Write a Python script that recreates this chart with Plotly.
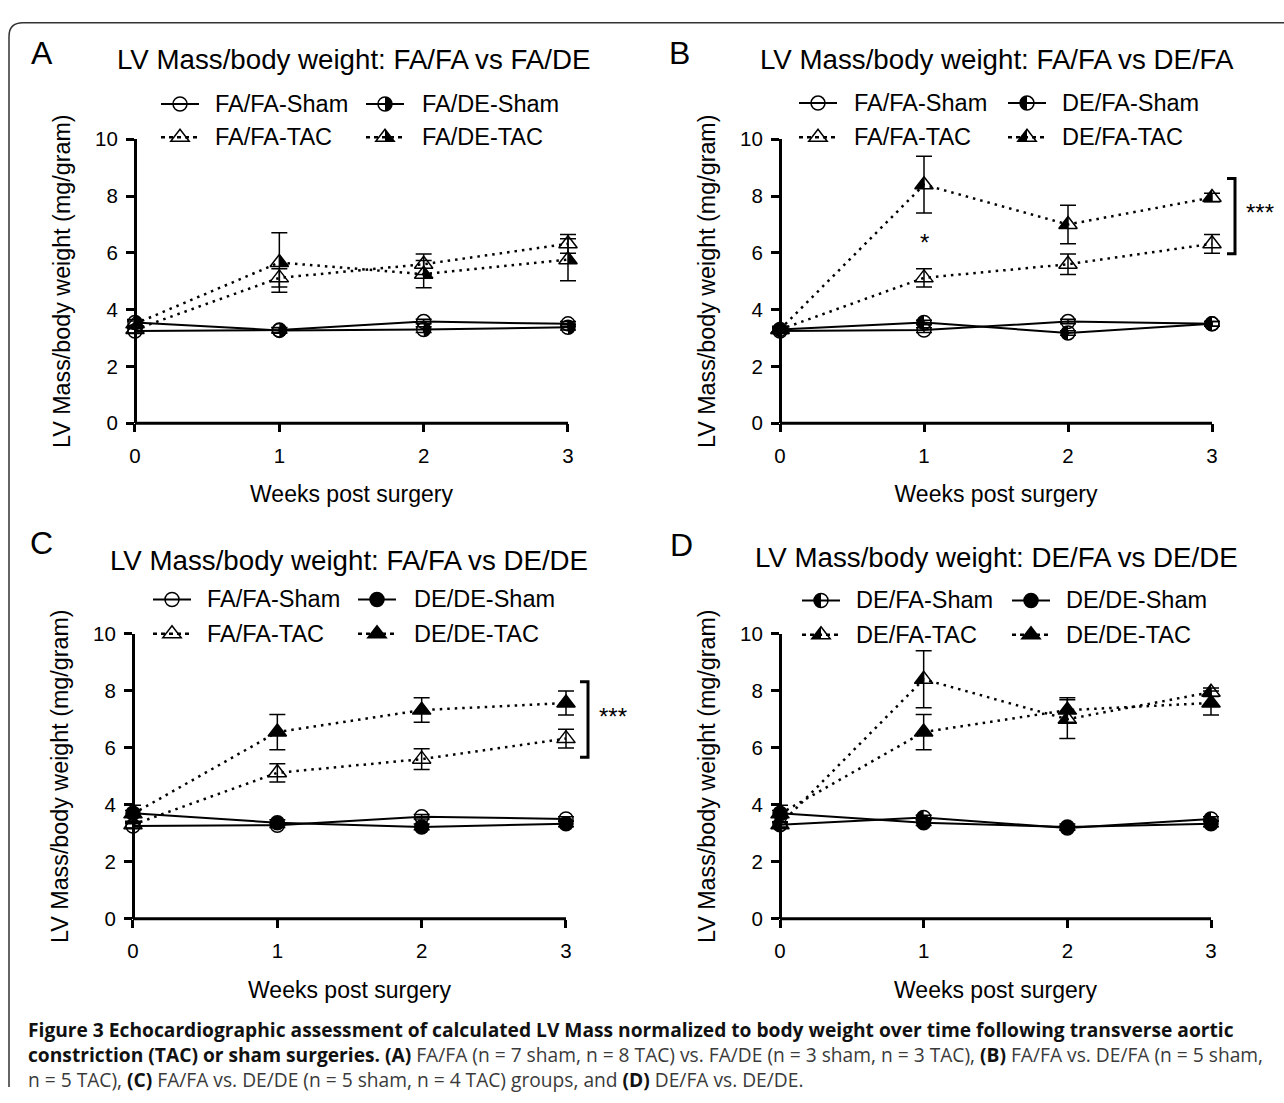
import math
import plotly.graph_objects as go

W, H = 1284, 1103

# ---------------- data ----------------
weeks = [0, 1, 2, 3]
x_tick_labels = ["0", "1", "2", "3"]
y_ticks = [0, 2, 4, 6, 8, 10]

fafa_sham = [3.25, 3.28, 3.58, 3.50]
fafa_sham_sem = [0.08, 0.08, 0.08, 0.08]
fafa_tac = [3.30, 5.12, 5.60, 6.32]
fafa_tac_sem = [0.12, 0.32, 0.36, 0.33]

fade_sham = [3.55, 3.27, 3.30, 3.38]
fade_sham_sem = [0.10, 0.10, 0.10, 0.10]
fade_tac = [3.50, 5.66, 5.25, 5.76]
fade_tac_sem = [0.10, 1.05, 0.48, 0.74]

defa_sham = [3.30, 3.55, 3.18, 3.50]
defa_sham_sem = [0.08, 0.08, 0.08, 0.08]
defa_tac = [3.30, 8.40, 7.00, 7.95]
defa_tac_sem = [0.10, 1.00, 0.68, 0.15]

dede_sham = [3.70, 3.37, 3.22, 3.33]
dede_sham_sem = [0.10, 0.10, 0.10, 0.10]
dede_tac = [3.68, 6.55, 7.32, 7.57]
dede_tac_sem = [0.30, 0.62, 0.43, 0.42]

# significance marks
star_B = [1, 6.59]
bracket_B = [8.62, 5.97]
bracket_C = [8.32, 5.67]
stars_B_y = 7.62
stars_C_y = 7.29

panel_titles = [
    "LV Mass/body weight: FA/FA vs FA/DE",
    "LV Mass/body weight: FA/FA vs DE/FA",
    "LV Mass/body weight: FA/FA vs DE/DE",
    "LV Mass/body weight: DE/FA vs DE/DE",
]
panel_letters = ["A", "B", "C", "D"]
x_title = "Weeks post surgery"
y_title = "LV Mass/body weight (mg/gram)"

# series: name -> (values, sem, marker kind, fill, group)
series = {
    "FA/FA-Sham": (fafa_sham, fafa_sham_sem, "circle", "open", "sham"),
    "FA/FA-TAC": (fafa_tac, fafa_tac_sem, "triangle", "open", "tac"),
    "FA/DE-Sham": (fade_sham, fade_sham_sem, "circle", "right", "sham"),
    "FA/DE-TAC": (fade_tac, fade_tac_sem, "triangle", "right", "tac"),
    "DE/FA-Sham": (defa_sham, defa_sham_sem, "circle", "left", "sham"),
    "DE/FA-TAC": (defa_tac, defa_tac_sem, "triangle", "left", "tac"),
    "DE/DE-Sham": (dede_sham, dede_sham_sem, "circle", "full", "sham"),
    "DE/DE-TAC": (dede_tac, dede_tac_sem, "triangle", "full", "tac"),
}

panel_series = [
    [["FA/FA-Sham", "FA/DE-Sham"], ["FA/FA-TAC", "FA/DE-TAC"]],
    [["FA/FA-Sham", "DE/FA-Sham"], ["FA/FA-TAC", "DE/FA-TAC"]],
    [["FA/FA-Sham", "DE/DE-Sham"], ["FA/FA-TAC", "DE/DE-TAC"]],
    [["DE/FA-Sham", "DE/DE-Sham"], ["DE/FA-TAC", "DE/DE-TAC"]],
]

caption_html = (
    "<b>Figure 3 Echocardiographic assessment of calculated LV Mass normalized to body weight over time following transverse aortic</b><br>"
    "<b>constriction (TAC) or sham surgeries.</b> <b>(A)</b> <span style='color:#3a3a3a'>FA/FA (n = 7 sham, n = 8 TAC) vs. FA/DE (n = 3 sham, n = 3 TAC),</span> "
    "<b>(B)</b> <span style='color:#3a3a3a'>FA/FA vs. DE/FA (n = 5 sham,</span><br>"
    "<span style='color:#3a3a3a'>n = 5 TAC),</span> <b>(C)</b> <span style='color:#3a3a3a'>FA/FA vs. DE/DE (n = 5 sham, n = 4 TAC) groups, and</span> "
    "<b>(D)</b> <span style='color:#3a3a3a'>DE/FA vs. DE/DE.</span>"
)

# ---------------- layout geometry (pixels) ----------------
plot_boxes = [
    dict(x=(135, 568), y=(130, 420)),
    dict(x=(780, 1212), y=(130, 420)),
    dict(x=(133, 566), y=(635, 926)),
    dict(x=(780, 1211), y=(635, 926)),
]
title_pos = [(353, 49), (997, 49), (349, 560), (996, 557)]
letter_pos = [(42, 42), (680, 42), (42, 542), (681, 544)]
legend_rows = [(94, 128), (93, 128), (600, 635), (601, 636)]
legend_cols = [((180, 213), (385, 420)), ((818, 852), (1027, 1060)),
               ((172, 205), (377, 412)), ((821, 854), (1031, 1064))]
bracket_dx = [None, 23, 22, None]

FONT = "Liberation Sans, Arial, Helvetica, sans-serif"
CIRC = 14
TRI = 16
DOT = "2.5px,5px"
PAD = 0.1


def X(px):
    return px / W


def Y(py):
    return 1 - py / H


def marker_shapes(kind, fill, xref, yref, xa, ya):
    out = []
    base = dict(xref=xref, yref=yref, xsizemode="pixel", ysizemode="pixel",
                xanchor=xa, yanchor=ya, layer="above")
    if kind == "circle":
        r = CIRC / 2
        c = 0.5523 * r
        if fill in ("open", "full"):
            out.append(dict(type="circle", x0=-r, x1=r, y0=-r, y1=r,
                            line=dict(color="black", width=1.5),
                            fillcolor="black" if fill == "full" else "rgba(0,0,0,0)", **base))
        else:
            s = 1 if fill == "right" else -1
            p = (f"M0,{r} C{s*c},{r} {s*r},{c} {s*r},0 "
                 f"C{s*r},{-c} {s*c},{-r} 0,{-r} Z")
            out.append(dict(type="path", path=p, fillcolor="black",
                            line=dict(width=0), **base))
            if xref == "paper":
                out.append(dict(type="circle", x0=-r, x1=r, y0=-r, y1=r,
                                line=dict(color="black", width=1.5),
                                fillcolor="rgba(0,0,0,0)", **base))
    else:
        r = TRI / 2
        rt = r * 2 / math.sqrt(3)
        if fill in ("open", "full"):
            p = f"M{-rt},{-r/2} L{rt},{-r/2} L0,{r} Z"
            out.append(dict(type="path", path=p,
                            line=dict(color="black", width=1.5),
                            fillcolor="black" if fill == "full" else "rgba(0,0,0,0)", **base))
        else:
            s = 1 if fill == "right" else -1
            p = f"M0,{r} L{s*rt},{-r/2} L0,{-r/2} Z"
            out.append(dict(type="path", path=p, fillcolor="black",
                            line=dict(width=0), **base))
            if xref == "paper":
                p2 = f"M{-rt},{-r/2} L{rt},{-r/2} L0,{r} Z"
                out.append(dict(type="path", path=p2,
                                line=dict(color="black", width=1.5),
                                fillcolor="rgba(0,0,0,0)", **base))
    return out


fig = go.Figure()
shapes = []
annotations = []
layout_axes = {}

for i in range(4):
    n = "" if i == 0 else str(i + 1)
    xr, yr = "x" + n, "y" + n
    box = plot_boxes[i]
    p0, p3 = box["x"]
    ytop, ybot = box["y"]
    s = (p3 - p0) / 3.0
    tick_common = dict(ticks="outside", ticklen=8, tickwidth=3, tickcolor="black",
                       showgrid=False, zeroline=False,
                       tickfont=dict(family=FONT, size=20.5, color="black"))
    layout_axes["xaxis" + n] = dict(
        domain=[X(p0 - PAD * s), X(p3 + PAD * s)], range=[-PAD, 3 + PAD], anchor=yr,
        showline=False, tickvals=weeks, ticktext=x_tick_labels, ticklabelstandoff=6,
        title=dict(text=x_title, font=dict(family=FONT, size=23, color="black"), standoff=20),
        **tick_common)
    layout_axes["yaxis" + n] = dict(
        domain=[Y(ybot), Y(ytop)], range=[0, 10], anchor="free", position=X(p0),
        showline=True, linewidth=3, linecolor="black",
        tickvals=y_ticks, ticklabelstandoff=4,
        title=dict(text=y_title, font=dict(family=FONT, size=23.3, color="black"), standoff=16),
        **tick_common)
    # x-axis baseline from week 0 to week 3
    shapes.append(dict(type="line", xref=xr, yref="paper", x0=weeks[0], x1=weeks[-1],
                       y0=Y(ybot), y1=Y(ybot), line=dict(color="black", width=3), layer="above"))

    grid = panel_series[i]
    order = [grid[0][0], grid[0][1], grid[1][0], grid[1][1]]
    for name in order:
        vals, sem, kind, fill, group = series[name]
        sym = "circle" if kind == "circle" else "triangle-up"
        if fill != "full":
            sym += "-open"
        fig.add_trace(go.Scatter(
            x=weeks, y=vals, xaxis=xr, yaxis=yr, mode="lines+markers",
            line=dict(color="black", width=2 if group == "sham" else 2.5,
                      dash="solid" if group == "sham" else DOT),
            marker=dict(symbol=sym, size=CIRC if kind == "circle" else TRI,
                        color="black", line=dict(color="black", width=1.5)),
            error_y=dict(type="data", array=sem, visible=True, color="black",
                         thickness=1.5, width=8),
            cliponaxis=False, showlegend=False, hoverinfo="skip", name=name))
        if fill in ("left", "right"):
            for wk, v in zip(weeks, vals):
                shapes += marker_shapes(kind, fill, xr, yr, wk, v)

    tx, ty = title_pos[i]
    annotations.append(dict(text=panel_titles[i], x=X(tx), y=Y(ty), xref="paper", yref="paper",
                            showarrow=False, xanchor="center", yanchor="middle",
                            font=dict(family=FONT, size=27.7, color="black")))
    lx, ly = letter_pos[i]
    annotations.append(dict(text=panel_letters[i], x=X(lx), y=Y(ly), xref="paper", yref="paper",
                            showarrow=False, xanchor="center", yanchor="middle",
                            font=dict(family=FONT, size=32, color="black")))

    for r, rowy in enumerate(legend_rows[i]):
        for c in range(2):
            name = grid[r][c]
            vals, sem, kind, fill, group = series[name]
            mx, tx0 = legend_cols[i][c]
            shapes.append(dict(type="line", xref="paper", yref="paper",
                               x0=X(mx - 19), x1=X(mx + 19), y0=Y(rowy), y1=Y(rowy),
                               line=dict(color="black", width=2 if group == "sham" else 2.5,
                                         dash="solid" if group == "sham" else "4px,4px"),
                               layer="above"))
            shapes += marker_shapes(kind, fill, "paper", "paper", X(mx), Y(rowy))
            annotations.append(dict(text=name, x=X(tx0), y=Y(rowy), xref="paper", yref="paper",
                                    showarrow=False, xanchor="left", yanchor="middle",
                                    font=dict(family=FONT, size=23.5, color="black")))

    if bracket_dx[i] is not None:
        top, bot = bracket_B if i == 1 else bracket_C
        dx = bracket_dx[i]
        xa, xb = X(p3 + dx - 8), X(p3 + dx)
        shapes.append(dict(type="path", xref="paper", yref=yr,
                           path=f"M{xa},{top} L{xb},{top} L{xb},{bot} L{xa},{bot}",
                           line=dict(color="black", width=3), layer="above"))

# significance annotations
annotations.append(dict(text="*", x=star_B[0], y=star_B[1], xref="x2", yref="y2",
                        showarrow=False, yshift=-6, font=dict(family=FONT, size=24, color="black")))
annotations.append(dict(text="***", x=3, y=stars_B_y, xref="x2", yref="y2", xshift=48,
                        showarrow=False, yshift=-6, font=dict(family=FONT, size=24, color="black")))
annotations.append(dict(text="***", x=3, y=stars_C_y, xref="x3", yref="y3", xshift=47,
                        showarrow=False, yshift=-6, font=dict(family=FONT, size=24, color="black")))

# frame
frame = (f"M{X(9)},{Y(1098)} L{X(9)},{Y(25)} Q{X(9)},{Y(11)} {X(23)},{Y(11)} L{X(1284)},{Y(11)}")
shapes.append(dict(type="path", xref="paper", yref="paper", path=frame,
                   line=dict(color="#333333", width=1.5), layer="below"))

# caption (single block, three lines)
CAP_SIZE = 19.2
annotations.append(dict(text=caption_html, x=X(26), y=Y(1036 - 0.65 * CAP_SIZE * 1.0),
                        xref="paper", yref="paper", showarrow=False,
                        xanchor="left", yanchor="top", align="left",
                        font=dict(family="Open Sans, Liberation Sans, sans-serif",
                                  size=CAP_SIZE, color="#111111")))

fig.update_layout(width=W, height=H, margin=dict(l=0, r=0, t=0, b=0),
                  paper_bgcolor="white", plot_bgcolor="white", showlegend=False,
                  shapes=shapes, annotations=annotations, **layout_axes)

fig.write_html("out.html", config={"displayModeBar": False},
               post_script="document.body.style.margin='0';")
